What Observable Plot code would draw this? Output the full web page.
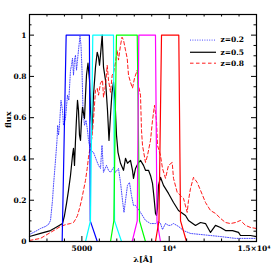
<!DOCTYPE html>
<html><head><meta charset="utf-8">
<script src="https://cdn.jsdelivr.net/npm/d3@7"></script>
<script src="https://cdn.jsdelivr.net/npm/@observablehq/plot@0.6"></script>
<style>body{margin:0;background:#fff}</style>
</head><body><div id="chart"></div>
<script>
// ---- data ----
const seriesLabels = ["z=0.2", "z=0.5", "z=0.8"];

const z02Lambda = [2000,2344,2630,2916,3088,3203,3317,3374,3489,3575,3615,3661,3718,3804,3890,3947,4062,4176,4251,4348,4405,4463,4520,4577,4634,4692,4749,4806,4892,4949,5007,5064,5150,5236,5322,5379,5493,5665,5837,5952,6066,6152,6238,6410,6524,6639,6811,6925,7097,7212,7326,7412,7498,7612,7727,7841,7956,8071,8357,8643,8930,9216,9388,9502,9617,9789,9960,10075,10247,10533,10820,11220,11793,12939,13797,15000];
const z02Flux = [0.034,0.049,0.063,0.073,0.083,0.102,0.199,0.272,0.393,0.490,0.563,0.515,0.563,0.684,0.636,0.563,0.597,0.709,0.684,0.830,0.854,0.888,0.806,0.879,0.903,0.830,0.879,0.927,0.995,0.951,0.830,0.636,0.563,0.587,0.539,0.490,0.442,0.432,0.393,0.369,0.354,0.466,0.335,0.369,0.345,0.335,0.359,0.335,0.354,0.286,0.199,0.141,0.199,0.272,0.286,0.223,0.175,0.175,0.141,0.102,0.087,0.087,0.097,0.087,0.058,0.087,0.078,0.078,0.087,0.073,0.053,0.039,0.034,0.024,0.015,0.015];

const z05Lambda = [2000,2630,3203,3604,3890,4004,4119,4234,4348,4463,4520,4577,4634,4692,4749,4806,4863,4921,4978,5035,5150,5207,5264,5350,5436,5493,5579,5665,5780,5877,5952,6009,6066,6163,6238,6353,6467,6553,6639,6725,6811,6897,6983,7068,7212,7383,7498,7612,7784,7899,7956,8071,8242,8357,8529,8643,8815,8930,9044,9130,9216,9273,9330,9388,9502,9674,9960,10247,10533,10934,11106,11506,11793,12080,12366,12652,12939,13225,13626,13970,14084,14657,15000];
const z05Flux = [0.024,0.039,0.053,0.073,0.087,0.126,0.184,0.248,0.320,0.417,0.451,0.369,0.490,0.597,0.684,0.636,0.515,0.490,0.587,0.650,0.597,0.709,0.806,0.864,0.782,0.636,0.539,0.709,0.845,0.917,0.893,0.854,0.903,1.0,0.845,0.782,0.636,0.490,0.612,0.723,0.772,0.684,0.515,0.432,0.379,0.345,0.403,0.379,0.393,0.345,0.306,0.354,0.383,0.393,0.369,0.345,0.345,0.320,0.282,0.214,0.136,0.126,0.160,0.272,0.311,0.272,0.233,0.189,0.150,0.126,0.102,0.078,0.092,0.087,0.044,0.078,0.068,0.053,0.053,0.044,0.029,0.029,0.024];

const z08Lambda = [2000,2630,3203,3489,3775,4119,4348,4520,4634,4749,4863,4978,5092,5207,5304,5379,5493,5579,5637,5694,5780,5877,5952,6066,6181,6238,6353,6450,6524,6639,6736,6811,6925,7022,7097,7212,7298,7384,7498,7595,7670,7784,7899,8013,8168,8242,8357,8414,8472,8643,8758,8930,9044,9159,9273,9330,9502,9617,9789,9960,10172,10247,10459,10648,10820,11032,11106,11220,11392,11603,11793,12080,12366,12652,12939,13225,13511,13797,14084,14370,14657,15000];
const z08Flux = [0.005,0.015,0.044,0.058,0.073,0.083,0.087,0.092,0.107,0.126,0.160,0.199,0.248,0.296,0.354,0.408,0.466,0.505,0.563,0.626,0.733,0.743,0.709,0.767,0.782,0.699,0.757,0.854,0.782,0.723,0.806,0.816,0.869,0.927,0.879,0.951,0.990,0.976,0.927,0.888,0.806,0.772,0.743,0.791,0.830,0.757,0.709,0.539,0.466,0.383,0.417,0.490,0.587,0.660,0.587,0.466,0.417,0.354,0.306,0.369,0.383,0.306,0.238,0.223,0.209,0.141,0.199,0.257,0.311,0.286,0.248,0.189,0.150,0.136,0.112,0.092,0.087,0.092,0.102,0.078,0.068,0.063];

const filterBlueLambda    = [2000,3870,4100,5430,5480,5880,11000];
const filterBlueFlux      = [0,0,1,1,0.1,0,0];
const filterCyanLambda    = [2000,5210,5490,5625,6810,6870,7270,11000];
const filterCyanFlux      = [0,0,0.1,1,1,0.1,0,0];
const filterGreenLambda   = [2000,6640,6830,6980,8170,8300,8640,11000];
const filterGreenFlux     = [0,0,0.1,1,1,0.1,0,0];
const filterMagentaLambda = [2000,7880,8170,8260,9215,9300,9500,11000];
const filterMagentaFlux   = [0,0,0.1,1,1,0.1,0,0];
const filterRedLambda     = [2000,9215,9415,9560,10550,10650,10990,11000];
const filterRedFlux       = [0,0,0.1,1,1,0.1,0,0];

const xTickValues = [5000, 10000, 15000];
const xTickLabels = ["5000", "10\u2074", "1.5\u00d710\u2074"];
const yTickValues = [0, 0.2, 0.4, 0.6, 0.8, 1];
const yTickLabels = ["0", "0.2", "0.4", "0.6", "0.8", "1"];

// ---- chart ----
const rows = (L, F) => L.map((x, i) => ({x, y: F[i]}));
const xMin = 2000, xMax = 15000, yMin = 0, yMax = 1.1;
const W = 271, H = 271, mL = 29, mR = 15, mT = 14, mB = 30;
const kx = (xMax - xMin) / (W - mL - mR);   // data per pixel
const ky = (yMax - yMin) / (H - mT - mB);
const xMinor = d3.range(3000, 15000, 1000).filter(v => !xTickValues.includes(v));
const yMinor = d3.range(1, 22).map(i => +(i * 0.05).toFixed(2)).filter(v => !yTickValues.includes(v));
const major = 5, minor = 2.5;

const tickMarks = [
  Plot.ruleX(xTickValues, {x: d => d, y1: yMin, y2: yMin + major * ky, stroke: "black"}),
  Plot.ruleX(xTickValues, {x: d => d, y1: yMax, y2: yMax - major * ky, stroke: "black"}),
  Plot.ruleX(xMinor, {x: d => d, y1: yMin, y2: yMin + minor * ky, stroke: "black"}),
  Plot.ruleX(xMinor, {x: d => d, y1: yMax, y2: yMax - minor * ky, stroke: "black"}),
  Plot.ruleY(yTickValues, {y: d => d, x1: xMin, x2: xMin + major * kx, stroke: "black"}),
  Plot.ruleY(yTickValues, {y: d => d, x1: xMax, x2: xMax - major * kx, stroke: "black"}),
  Plot.ruleY(yMinor, {y: d => d, x1: xMin, x2: xMin + minor * kx, stroke: "black"}),
  Plot.ruleY(yMinor, {y: d => d, x1: xMax, x2: xMax - minor * kx, stroke: "black"})
];

const seriesStyles = [
  {stroke: "#2a2aff", strokeWidth: 0.85, strokeDasharray: "1,1.4"},
  {stroke: "#000000", strokeWidth: 1.2},
  {stroke: "#ff0000", strokeWidth: 0.9, strokeDasharray: "3.5,2.5"}
];
const legendY = [0.976, 0.917, 0.864];
const legendX1 = xMin + 161 * kx, legendX2 = xMin + 187 * kx, legendXT = xMin + 191 * kx;

const chart = Plot.plot({
  width: W, height: H,
  marginLeft: mL, marginRight: mR, marginTop: mT, marginBottom: mB,
  style: {fontFamily: "DejaVu Serif", fontSize: "7.5px", fontWeight: "bold", background: "#fff", color: "black"},
  x: {domain: [xMin, xMax], axis: null},
  y: {domain: [yMin, yMax]},
  marks: [
    Plot.line(rows(z02Lambda, z02Flux), {x: "x", y: "y", ...seriesStyles[0]}),
    Plot.line(rows(z05Lambda, z05Flux), {x: "x", y: "y", ...seriesStyles[1]}),
    Plot.line(rows(z08Lambda, z08Flux), {x: "x", y: "y", ...seriesStyles[2]}),
    Plot.line(rows(filterBlueLambda, filterBlueFlux), {x: "x", y: "y", stroke: "#0000ff", strokeWidth: 1.2}),
    Plot.line(rows(filterCyanLambda, filterCyanFlux), {x: "x", y: "y", stroke: "#00ffff", strokeWidth: 1.2}),
    Plot.line(rows(filterGreenLambda, filterGreenFlux), {x: "x", y: "y", stroke: "#00ff00", strokeWidth: 1.2}),
    Plot.line(rows(filterMagentaLambda, filterMagentaFlux), {x: "x", y: "y", stroke: "#ff00ff", strokeWidth: 1.2}),
    Plot.line(rows(filterRedLambda, filterRedFlux), {x: "x", y: "y", stroke: "#ff0000", strokeWidth: 1.2}),
    Plot.frame({stroke: "black", strokeWidth: 1.2}),
    ...tickMarks,
    Plot.text(xTickValues.slice(0, 2), {x: d => d, frameAnchor: "bottom", lineAnchor: "top", dy: 4,
      text: d => xTickLabels[xTickValues.indexOf(d)]}),
    Plot.text(xTickValues.slice(2), {x: d => d, frameAnchor: "bottom", lineAnchor: "top", dy: 4, dx: 14,
      textAnchor: "end", text: d => xTickLabels[xTickValues.indexOf(d)]}),
    Plot.axisY(yTickValues, {tickSize: 0, tickPadding: 3, label: null,
      tickFormat: d => yTickLabels[yTickValues.indexOf(d)]}),
    Plot.text(["\u03bb[\u00c5]"], {frameAnchor: "bottom", dy: 20, fontSize: 8}),
    Plot.text(["flux"], {frameAnchor: "left", dx: -21, rotate: -90, fontSize: 8}),
    ...seriesLabels.map((s, i) => Plot.ruleY([legendY[i]], {y: d => d, x1: legendX1, x2: legendX2, ...seriesStyles[i]})),
    Plot.text(seriesLabels, {x: legendXT, y: (d, i) => legendY[i], text: d => d, textAnchor: "start", fontSize: 7.5})
  ]
});
document.getElementById("chart").appendChild(chart);
</script>
</body></html>
